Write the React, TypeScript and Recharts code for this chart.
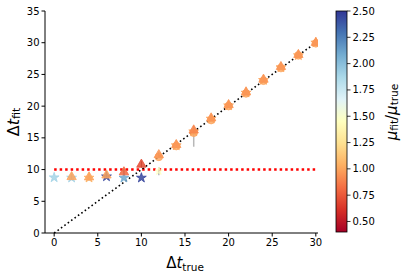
import React from 'react';
import { ScatterChart, Scatter, XAxis, YAxis, ReferenceLine, ErrorBar, Symbols } from 'recharts';

// Triangles
const triX = [2, 4, 6, 8, 10, 12, 14, 16, 18, 20, 22, 24, 26, 28, 30];
const triY = [8.85, 8.8, 9.1, 9.6, 10.8, 12.3, 13.9, 16.2, 18.1, 20.2, 22.2, 24.2, 26.2, 28.1, 30.0];
const triRatio = [1.0, 1.0, 1.0, 0.8, 0.7, 0.95, 0.95, 0.9, 0.95, 0.95, 0.95, 0.95, 0.95, 0.95, 0.95];
const triErr = [0.5, 0.5, 0.5, 0.5, 0.5, 0.4, 0.4, 0.6, 0.5, 0.4, 0.4, 0.4, 0.4, 0.4, 0.4];

// Stars
const starX = [0, 2, 4, 6, 8, 10, 14, 16, 18, 20, 22, 24, 26, 28, 30];
const starY = [8.75, 8.7, 8.7, 8.9, 8.7, 8.7, 13.8, 16.0, 18.0, 20.1, 22.1, 24.1, 26.1, 28.0, 30.0];
const starRatio = [1.9, 1.9, 1.05, 2.45, 2.1, 2.45, 1.0, 1.0, 1.0, 1.0, 1.0, 1.0, 1.0, 1.0, 1.0];

// Circles
const circX = [12, 14, 16, 18, 20, 22, 24, 26, 28, 30];
const circY = [12.0, 13.7, 15.8, 17.8, 20.0, 22.0, 24.0, 26.0, 28.0, 29.9];
const circRatio = [1.0, 1.0, 1.0, 1.0, 1.0, 1.0, 1.0, 1.0, 1.0, 1.0];

// Outlier error bars
const outX = [12, 16];
const outY = [9.75, 16.2];
const outLow = [0.65, 2.6];
const outHigh = [0.65, 0];
const outRatio = [1.45, 0];

const xTicks = [0, 5, 10, 15, 20, 25, 30];
const yTicks = [0, 5, 10, 15, 20, 25, 30, 35];
const cbTicks = [0.5, 0.75, 1.0, 1.25, 1.5, 1.75, 2.0, 2.25, 2.5];
const cbMin = 0.4;
const cbMax = 2.5;

const RdYlBu = ['#a50026', '#d73027', '#f46d43', '#fdae61', '#fee090', '#ffffbf', '#e0f3f8', '#abd9e9', '#74add1', '#4575b4', '#313695'];

function hex(h: string) {
  return [parseInt(h.slice(1, 3), 16), parseInt(h.slice(3, 5), 16), parseInt(h.slice(5, 7), 16)];
}
function cmap(r: number) {
  let t = (r - cbMin) / (cbMax - cbMin);
  t = Math.max(0, Math.min(1, t));
  const p = t * 10;
  const i = Math.min(9, Math.floor(p));
  const f = p - i;
  const a = hex(RdYlBu[i]);
  const b = hex(RdYlBu[i + 1]);
  const c = a.map((v, k) => Math.round(v + (b[k] - v) * f));
  return `rgb(${c[0]},${c[1]},${c[2]})`;
}

const triData = triX.map((x, i) => ({ x, y: triY[i], r: triRatio[i], e: triErr[i] }));
const starData = starX.map((x, i) => ({ x, y: starY[i], r: starRatio[i] }));
const circData = circX.map((x, i) => ({ x, y: circY[i], r: circRatio[i] }));
const outData = outX.map((x, i) => ({ x, y: outY[i], r: outRatio[i], err: [outLow[i], outHigh[i]] }));

const FONT = 'DejaVu Sans';

const plotLeft = 45;
const plotRight = 318;
const plotTop = 11;

const cbLeft = 336;
const cbRight = 347;
const cbTop = 11;
const cbBottom = 232;
const cbY = (v: number) => cbBottom - ((v - cbMin) / (cbMax - cbMin)) * (cbBottom - cbTop);

function makeShape(type: 'triangle' | 'star' | 'circle', size: number, opacity: number) {
  return (props: any) => {
    const r = props?.payload?.r ?? 1;
    if (r <= 0) return <g />;
    const c = cmap(r);
    return (
      <Symbols
        type={type}
        size={size}
        cx={props.cx}
        cy={props.cy}
        fill={c}
        fillOpacity={opacity}
        stroke={c}
        strokeWidth={0.8}
      />
    );
  };
}

export default function App() {
  return (
    <div style={{ position: 'absolute', left: 0, top: 0, width: 403, height: 276, background: '#fff' }}>
      <ScatterChart
        width={403}
        height={276}
        margin={{ top: plotTop, right: 403 - plotRight, bottom: 13, left: plotLeft - 35 }}
      >
        <XAxis
          type="number"
          dataKey="x"
          domain={[-1.05, 30.25]}
          ticks={xTicks}
          allowDataOverflow
          height={30}
          tickSize={3.5}
          stroke="#000"
          tick={{ fill: '#000', fontSize: 10, fontFamily: FONT }}
          tickFormatter={(v: number) => String(v)}
        />
        <YAxis
          type="number"
          dataKey="y"
          domain={[0, 35]}
          ticks={yTicks}
          allowDataOverflow
          width={35}
          tickSize={3.5}
          stroke="#000"
          tick={{ fill: '#000', fontSize: 10, fontFamily: FONT }}
        />
        <XAxis xAxisId="top" orientation="top" type="number" domain={[-1.05, 30.25]} height={0} tick={false} tickLine={false} stroke="#000" />
        <YAxis yAxisId="right" orientation="right" type="number" domain={[0, 35]} width={0} tick={false} tickLine={false} stroke="#000" />
        <ReferenceLine
          segment={[{ x: 0, y: 10 }, { x: 30, y: 10 }]}
          stroke="#ff0000"
          strokeWidth={2.5}
          strokeDasharray="2.5 3"
        />
        <Scatter data={outData} isAnimationActive={false} shape={makeShape('star', 18, 0.5)} legendType="none">
          <ErrorBar dataKey="err" direction="y" width={0} stroke="#b8b8b8" strokeWidth={1.5} isAnimationActive={false} />
        </Scatter>
        <Scatter data={circData} isAnimationActive={false} shape={makeShape('circle', 45, 0.8)} />
        <Scatter data={starData} isAnimationActive={false} shape={makeShape('star', 30, 0.85)} />
        <Scatter data={triData} isAnimationActive={false} shape={makeShape('triangle', 38, 0.85)}>
          <ErrorBar dataKey="e" direction="y" width={0} stroke="#333" strokeWidth={1} isAnimationActive={false} />
        </Scatter>
        <ReferenceLine
          segment={[{ x: 0, y: 0 }, { x: 30, y: 30 }]}
          stroke="#000"
          strokeWidth={1.6}
          strokeDasharray="1.6 2.6"
        />
      </ScatterChart>
      <svg width={403} height={276} style={{ position: 'absolute', left: 0, top: 0, pointerEvents: 'none' }}>
        <defs>
          <linearGradient id="cb" x1="0" y1="1" x2="0" y2="0">
            {RdYlBu.map((c, i) => (
              <stop key={i} offset={`${i * 10}%`} stopColor={c} />
            ))}
          </linearGradient>
        </defs>
        <text x={14} y={122} transform="rotate(-90 14 122)" textAnchor="middle" dominantBaseline="middle" fontFamily={FONT} fontSize={16} fill="#000">
          <tspan>Δ</tspan>
          <tspan fontStyle="italic">t</tspan>
          <tspan fontSize={11} dy={3}>fit</tspan>
        </text>
        <text x={185} y={268} textAnchor="middle" fontFamily={FONT} fontSize={15} fill="#000">
          <tspan>Δ</tspan>
          <tspan fontStyle="italic">t</tspan>
          <tspan fontSize={10.5} dy={3}>true</tspan>
        </text>
        <rect x={cbLeft} y={cbTop} width={cbRight - cbLeft} height={cbBottom - cbTop} fill="url(#cb)" stroke="#000" strokeWidth={0.8} />
        {cbTicks.map((v, i) => (
          <g key={i}>
            <line x1={cbRight} x2={cbRight + 3.5} y1={cbY(v)} y2={cbY(v)} stroke="#000" strokeWidth={0.8} />
            <text x={cbRight + 5.5} y={cbY(v)} dominantBaseline="central" fontFamily={FONT} fontSize={10} fill="#000">
              {v.toFixed(2)}
            </text>
          </g>
        ))}
        <text x={392} y={112} transform="rotate(-90 392 112)" textAnchor="middle" dominantBaseline="middle" fontFamily={FONT} fontSize={15} fill="#000">
          <tspan fontStyle="italic">μ</tspan>
          <tspan fontSize={10.5} dy={3}>fit</tspan>
          <tspan dy={-3}>/</tspan>
          <tspan fontStyle="italic">μ</tspan>
          <tspan fontSize={10.5} dy={3}>true</tspan>
        </text>
      </svg>
    </div>
  );
}
